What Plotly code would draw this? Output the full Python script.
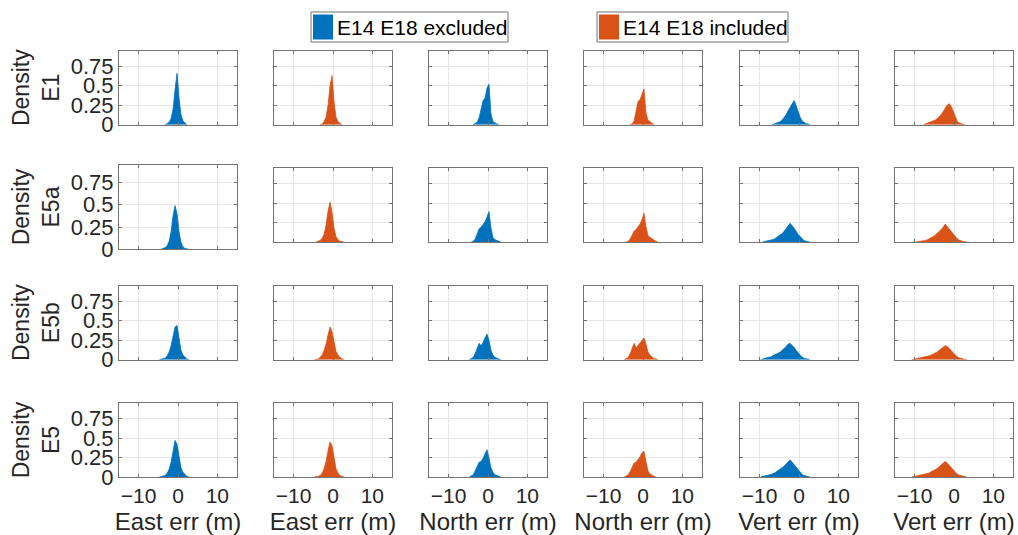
import plotly.graph_objects as go

# ---------------- data (density per 0.5 m bin) ----------------
BIN_W = 0.5
rows = ["E1", "E5a", "E5b", "E5"]
col_labels = ["East err (m)", "East err (m)", "North err (m)", "North err (m)", "Vert err (m)", "Vert err (m)"]
series_names = ["E14 E18 excluded", "E14 E18 included"]
x_ticks = [-10, 0, 10]
y_ticks = [0, 0.25, 0.5, 0.75]
y_ticktext = ["0", "0.25", "0.5", "0.75"]

# centre of the first (zero-padded) bin of each panel, per row
# order: East excl, East incl, North excl, North incl, Vert excl, Vert incl
E1_bin_start = [-3.25, -3.25, -3.75, -3.25, -6.75, -7.75]
E5a_bin_start = [-4.25, -4.25, -4.25, -4.25, -9.25, -9.75]
E5b_bin_start = [-4.75, -4.75, -4.75, -4.75, -9.75, -10.75]
E5_bin_start = [-4.75, -4.75, -4.75, -4.75, -9.75, -10.75]

E1_east_excl = [0.0, 0.01, 0.03, 0.08, 0.2, 0.45, 0.66, 0.35, 0.13, 0.05, 0.02, 0.0]
E1_east_incl = [0.0, 0.01, 0.04, 0.1, 0.25, 0.5, 0.63, 0.3, 0.1, 0.04, 0.02, 0.0]
E1_north_excl = [0.0, 0.01, 0.03, 0.09, 0.22, 0.31, 0.34, 0.47, 0.52, 0.14, 0.04, 0.02, 0.01, 0.0]
E1_north_incl = [0.0, 0.01, 0.05, 0.18, 0.3, 0.32, 0.4, 0.46, 0.15, 0.06, 0.04, 0.02, 0.0]
E1_vert_excl = [0.0, 0.01, 0.015, 0.025, 0.04, 0.06, 0.09, 0.13, 0.18, 0.23, 0.28, 0.31, 0.25, 0.17, 0.1, 0.05, 0.03, 0.015, 0.01, 0.0]
E1_vert_incl = [0.0, 0.01, 0.015, 0.02, 0.03, 0.045, 0.06, 0.08, 0.1, 0.13, 0.17, 0.21, 0.25, 0.27, 0.24, 0.18, 0.1, 0.05, 0.025, 0.01, 0.005, 0.0]

E5a_east_excl = [0.0, 0.01, 0.02, 0.04, 0.09, 0.2, 0.38, 0.49, 0.4, 0.2, 0.08, 0.03, 0.01, 0.005, 0.0]
E5a_east_incl = [0.0, 0.01, 0.02, 0.05, 0.1, 0.22, 0.4, 0.51, 0.38, 0.18, 0.07, 0.03, 0.01, 0.005, 0.0]
E5a_north_excl = [0.0, 0.01, 0.04, 0.1, 0.17, 0.19, 0.22, 0.26, 0.32, 0.39, 0.18, 0.06, 0.03, 0.02, 0.01, 0.0]
E5a_north_incl = [0.0, 0.01, 0.04, 0.09, 0.14, 0.16, 0.19, 0.23, 0.29, 0.37, 0.2, 0.08, 0.06, 0.04, 0.02, 0.01, 0.0]
E5a_vert_excl = [0.0, 0.005, 0.01, 0.015, 0.02, 0.03, 0.04, 0.055, 0.07, 0.09, 0.11, 0.14, 0.17, 0.2, 0.24, 0.21, 0.18, 0.14, 0.1, 0.07, 0.04, 0.02, 0.01, 0.005, 0.0]
E5a_vert_incl = [0.0, 0.003, 0.005, 0.01, 0.015, 0.02, 0.03, 0.04, 0.055, 0.07, 0.09, 0.11, 0.13, 0.16, 0.19, 0.23, 0.2, 0.17, 0.13, 0.1, 0.07, 0.045, 0.025, 0.012, 0.006, 0.003, 0.0]

E5b_east_excl = [0.0, 0.005, 0.01, 0.02, 0.05, 0.1, 0.18, 0.3, 0.42, 0.44, 0.25, 0.12, 0.06, 0.03, 0.01, 0.0]
E5b_east_incl = [0.0, 0.005, 0.01, 0.03, 0.06, 0.12, 0.2, 0.32, 0.42, 0.36, 0.22, 0.11, 0.06, 0.03, 0.015, 0.0]
E5b_north_excl = [0.0, 0.01, 0.03, 0.08, 0.15, 0.21, 0.18, 0.22, 0.28, 0.33, 0.25, 0.12, 0.06, 0.03, 0.02, 0.01, 0.0]
E5b_north_incl = [0.0, 0.01, 0.03, 0.08, 0.14, 0.21, 0.15, 0.18, 0.21, 0.25, 0.28, 0.2, 0.1, 0.06, 0.03, 0.015, 0.01, 0.0]
E5b_vert_excl = [0.0, 0.01, 0.02, 0.025, 0.03, 0.035, 0.045, 0.055, 0.07, 0.085, 0.1, 0.12, 0.14, 0.17, 0.2, 0.21, 0.18, 0.16, 0.12, 0.09, 0.06, 0.035, 0.02, 0.01, 0.005, 0.0]
E5b_vert_incl = [0.0, 0.005, 0.01, 0.015, 0.02, 0.025, 0.03, 0.035, 0.04, 0.05, 0.06, 0.07, 0.085, 0.1, 0.12, 0.14, 0.165, 0.18, 0.17, 0.15, 0.12, 0.09, 0.06, 0.04, 0.025, 0.015, 0.008, 0.004, 0.0]

E5_east_excl = [0.0, 0.005, 0.01, 0.02, 0.05, 0.1, 0.19, 0.32, 0.47, 0.42, 0.25, 0.12, 0.06, 0.03, 0.01, 0.0]
E5_east_incl = [0.0, 0.003, 0.008, 0.02, 0.05, 0.11, 0.2, 0.34, 0.45, 0.4, 0.24, 0.11, 0.05, 0.02, 0.01, 0.0]
E5_north_excl = [0.0, 0.01, 0.03, 0.08, 0.14, 0.19, 0.2, 0.24, 0.3, 0.35, 0.24, 0.12, 0.06, 0.03, 0.02, 0.01, 0.0]
E5_north_incl = [0.0, 0.01, 0.03, 0.07, 0.13, 0.18, 0.19, 0.22, 0.26, 0.31, 0.33, 0.2, 0.08, 0.04, 0.02, 0.01, 0.0]
E5_vert_excl = [0.0, 0.01, 0.015, 0.02, 0.025, 0.03, 0.04, 0.05, 0.065, 0.08, 0.1, 0.12, 0.14, 0.17, 0.2, 0.22, 0.19, 0.16, 0.12, 0.09, 0.06, 0.035, 0.02, 0.01, 0.005, 0.0]
E5_vert_incl = [0.0, 0.005, 0.01, 0.015, 0.02, 0.025, 0.03, 0.035, 0.045, 0.055, 0.065, 0.08, 0.095, 0.11, 0.13, 0.15, 0.18, 0.2, 0.18, 0.15, 0.12, 0.09, 0.06, 0.04, 0.025, 0.015, 0.008, 0.004, 0.0]

panels = [
    (E1_bin_start, [E1_east_excl, E1_east_incl, E1_north_excl, E1_north_incl, E1_vert_excl, E1_vert_incl]),
    (E5a_bin_start, [E5a_east_excl, E5a_east_incl, E5a_north_excl, E5a_north_incl, E5a_vert_excl, E5a_vert_incl]),
    (E5b_bin_start, [E5b_east_excl, E5b_east_incl, E5b_north_excl, E5b_north_incl, E5b_vert_excl, E5b_vert_incl]),
    (E5_bin_start, [E5_east_excl, E5_east_incl, E5_north_excl, E5_north_incl, E5_vert_excl, E5_vert_incl]),
]

# ---------------- style / layout ----------------
W, H = 1018, 535
BLUE, ORANGE = "#0072BD", "#D95319"
colors = [BLUE, ORANGE]
FONT = "Liberation Sans, Arial, sans-serif"
TXT = "#262626"
AXC = "#737373"
GRID = "#e6e6e6"
col_left = [119, 274, 429, 584, 740, 895]
col_w = 118
row_box = [(50.7, 124.7), (168, 242), (285.7, 359.7), (403, 477)]
special_box = {(1, 0): (164.7, 249.3)}

fig = go.Figure()
layout = dict(
    width=W, height=H, margin=dict(l=0, r=0, t=0, b=0, autoexpand=False),
    paper_bgcolor="white", plot_bgcolor="white",
    showlegend=False,
    font=dict(family=FONT, color=TXT),
)

for r, (starts, dens_list) in enumerate(panels):
    for c, dens in enumerate(dens_list):
        idx = r * 6 + c + 1
        sfx = "" if idx == 1 else str(idx)
        xs = [starts[c] + BIN_W * i for i in range(len(dens))]
        fig.add_trace(go.Scatter(
            x=xs, y=dens, mode="lines", line=dict(shape="linear", width=0.8, color=colors[c % 2]),
            fill="tozeroy", fillcolor=colors[c % 2],
            name=series_names[c % 2], xaxis="x" + sfx, yaxis="y" + sfx, hoverinfo="x+y",
        ))
        top, bot = special_box.get((r, c), row_box[r])
        layout["xaxis" + sfx] = dict(
            domain=[col_left[c] / W, (col_left[c] + col_w) / W], anchor="y" + sfx,
            range=[-15, 15], tickvals=x_ticks, showticklabels=(r == 3), automargin=False,
            showgrid=True, gridcolor=GRID, zeroline=False,
            showline=True, linecolor=AXC, mirror="ticks", linewidth=1,
            ticks="inside", ticklen=3, tickcolor=AXC, ticklabelstandoff=0,
            tickfont=dict(size=21, color=TXT, family=FONT),
            title=dict(text=col_labels[c] if r == 3 else "", font=dict(size=24, color=TXT, family=FONT), standoff=8),
        )
        layout["yaxis" + sfx] = dict(
            domain=[1 - bot / H, 1 - top / H], anchor="x" + sfx,
            range=[0, 0.95], tickvals=y_ticks, ticktext=y_ticktext, showticklabels=(c == 0), automargin=False,
            showgrid=True, gridcolor=GRID, zeroline=False,
            showline=True, linecolor=AXC, mirror="ticks", linewidth=1,
            ticks="inside", ticklen=3, tickcolor=AXC,
            tickfont=dict(size=22, color=TXT, family=FONT),
            title=dict(text=("Density<br>" + rows[r]) if c == 0 else "", font=dict(size=23, color=TXT, family=FONT), standoff=4),
        )

# legend boxes (two separate MATLAB-style legends)
shapes, annotations = [], []
leg_boxes = [(311, 508), (597, 788)]
for (x0, x1), name, col in zip(leg_boxes, series_names, colors):
    shapes.append(dict(type="rect", xref="paper", yref="paper", x0=x0 / W, x1=x1 / W,
                       y0=1 - 42 / H, y1=1 - 12 / H, line=dict(color=AXC, width=1), fillcolor="white"))
    shapes.append(dict(type="rect", xref="paper", yref="paper", x0=(x0 + 2) / W, x1=(x0 + 22) / W,
                       y0=1 - 39.5 / H, y1=1 - 14.5 / H, line=dict(width=0), fillcolor=col))
    annotations.append(dict(text=name, xref="paper", yref="paper", x=(x0 + 24) / W, y=1 - 27 / H,
                            xanchor="left", yanchor="middle", showarrow=False,
                            font=dict(size=21, color="black", family=FONT)))
layout["shapes"] = shapes
layout["annotations"] = annotations
fig.update_layout(**layout)
fig.write_html("out.html")
